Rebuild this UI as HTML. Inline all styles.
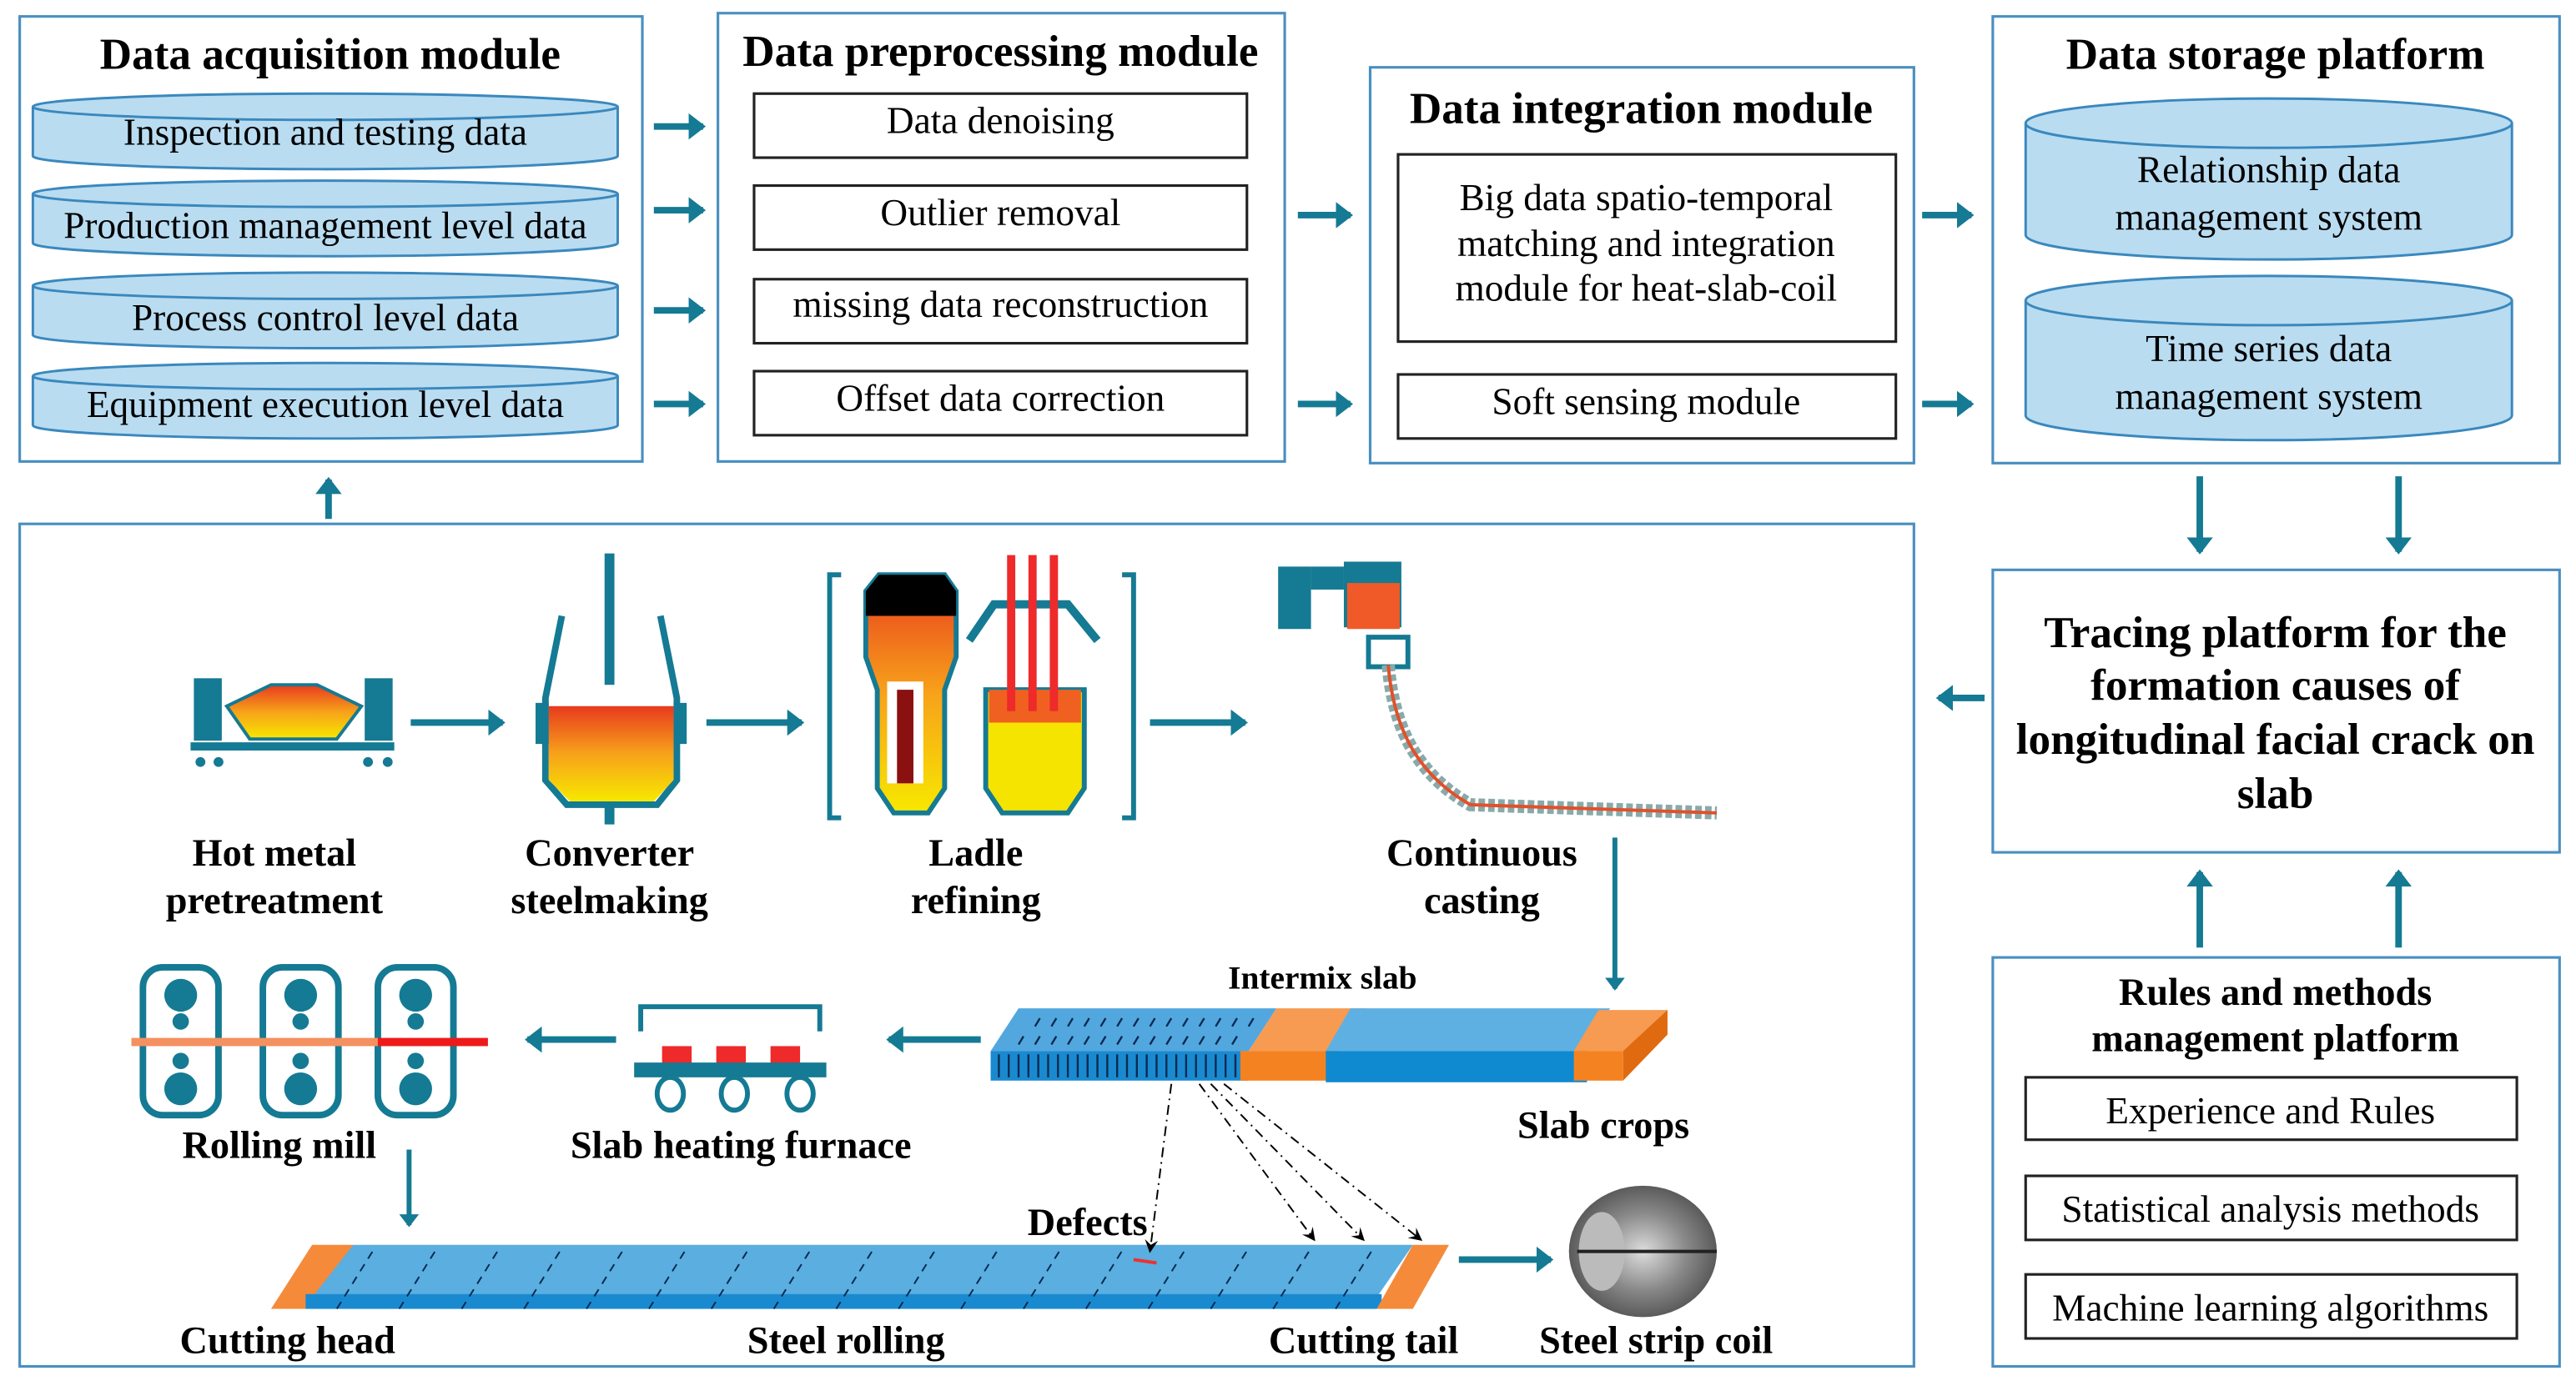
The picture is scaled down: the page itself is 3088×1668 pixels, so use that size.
<!DOCTYPE html>
<html><head><meta charset="utf-8"><style>
html,body{margin:0;padding:0;background:#fff;}
svg{display:block;}
text{font-family:"Liberation Serif",serif;fill:#000;}
.t{font-size:27px;font-weight:bold;text-anchor:middle;}
.i{font-size:23px;text-anchor:middle;}
.l{font-size:23.5px;font-weight:bold;text-anchor:middle;}
</style></head><body>
<svg width="3088" height="1668" viewBox="0 0 1568 847" preserveAspectRatio="none" xmlns="http://www.w3.org/2000/svg">
<defs>
<marker id="ah" markerWidth="4" markerHeight="4" refX="2.2" refY="2" orient="auto" markerUnits="strokeWidth"><path d="M0,0 L2.6,2 L0,4 Z" fill="#157a93"/></marker>
<marker id="dh" markerWidth="8" markerHeight="8" refX="7" refY="4" orient="auto" markerUnits="userSpaceOnUse"><path d="M0,0 L8,4 L0,8 L3,4 Z" fill="#000"/></marker>
<linearGradient id="hot" x1="0" y1="0" x2="0" y2="1"><stop offset="0" stop-color="#e83a1e"/><stop offset="0.5" stop-color="#f7a21a"/><stop offset="1" stop-color="#f7e800"/></linearGradient>
<radialGradient id="coil" cx="0.5" cy="0.5" r="0.6"><stop offset="0" stop-color="#ddd"/><stop offset="0.5" stop-color="#888"/><stop offset="1" stop-color="#444"/></radialGradient>
</defs>
<g fill="none" stroke="#4a8fc0" stroke-width="1.6">
<rect x="12" y="10" width="379" height="271"/>
<rect x="437" y="8" width="345" height="273"/>
<rect x="834" y="41" width="331" height="241"/>
<rect x="1213" y="10" width="345" height="272"/>
<rect x="1213" y="347" width="345" height="172"/>
<rect x="1213" y="583" width="345" height="249"/>
<rect x="12" y="319" width="1153" height="513"/>
</g>
<text class="t" x="201" y="42">Data acquisition module</text>
<text class="t" x="609" y="40">Data preprocessing module</text>
<text class="t" x="999" y="75">Data integration module</text>
<text class="t" x="1385" y="42">Data storage platform</text>
<!-- cylinders -->
<g fill="#b9dcf1" stroke="#3a88bd" stroke-width="1.5">
<path d="M20,65 v30 a178,8 0 0 0 356,0 v-30"/><ellipse cx="198" cy="65" rx="178" ry="8"/>
<path d="M20,118 v30 a178,8 0 0 0 356,0 v-30"/><ellipse cx="198" cy="118" rx="178" ry="8"/>
<path d="M20,174 v30 a178,8 0 0 0 356,0 v-30"/><ellipse cx="198" cy="174" rx="178" ry="8"/>
<path d="M20,229 v30 a178,8 0 0 0 356,0 v-30"/><ellipse cx="198" cy="229" rx="178" ry="8"/>
<path d="M1233,75 v68 a148,15 0 0 0 296,0 v-68"/><ellipse cx="1381" cy="75" rx="148" ry="15"/>
<path d="M1233,183 v70 a148,15 0 0 0 296,0 v-70"/><ellipse cx="1381" cy="183" rx="148" ry="15"/>
</g>
<text class="i" x="198" y="88">Inspection and testing data</text>
<text class="i" x="198" y="145">Production management level data</text>
<text class="i" x="198" y="201">Process control level data</text>
<text class="i" x="198" y="254">Equipment execution level data</text>
<text class="i" x="1381" y="111">Relationship data</text>
<text class="i" x="1381" y="140">management system</text>
<text class="i" x="1381" y="220">Time series data</text>
<text class="i" x="1381" y="249">management system</text>
<g fill="#fff" stroke="#222" stroke-width="1.6">
<rect x="459" y="57" width="300" height="39"/><rect x="459" y="113" width="300" height="39"/>
<rect x="459" y="170" width="300" height="39"/><rect x="459" y="226" width="300" height="39"/>
<rect x="851" y="94" width="303" height="114"/><rect x="851" y="228" width="303" height="39"/>
<rect x="1233" y="656" width="299" height="38"/><rect x="1233" y="716" width="299" height="39"/><rect x="1233" y="776" width="299" height="39"/>
</g>
<text class="i" x="609" y="81">Data denoising</text>
<text class="i" x="609" y="137">Outlier removal</text>
<text class="i" x="609" y="193">missing data reconstruction</text>
<text class="i" x="609" y="250">Offset data correction</text>
<text class="i" x="1002" y="128">Big data spatio-temporal</text>
<text class="i" x="1002" y="156">matching and integration</text>
<text class="i" x="1002" y="183">module for heat-slab-coil</text>
<text class="i" x="1002" y="252">Soft sensing module</text>
<text class="i" x="1382" y="684">Experience and Rules</text>
<text class="i" x="1382" y="744">Statistical analysis methods</text>
<text class="i" x="1382" y="804">Machine learning algorithms</text>
<text class="t" x="1385" y="394">Tracing platform for the</text>
<text class="t" x="1385" y="426">formation causes of</text>
<text class="t" x="1385" y="459">longitudinal facial crack on</text>
<text class="t" x="1385" y="492">slab</text>
<text class="l" x="1385" y="612">Rules and methods</text>
<text class="l" x="1385" y="640">management platform</text>
<!-- arrows -->
<g stroke="#157a93" stroke-width="4" fill="none" marker-end="url(#ah)">
<path d="M398,77 H428"/><path d="M398,128 H428"/><path d="M398,189 H428"/><path d="M398,246 H428"/>
<path d="M790,131 H822"/><path d="M790,246 H822"/>
<path d="M1170,131 H1200"/><path d="M1170,246 H1200"/>
<path d="M1339,290 V336"/><path d="M1460,290 V336"/>
<path d="M1208,425 H1180"/>
<path d="M1339,577 V531"/><path d="M1460,577 V531"/>
<path d="M200,316 V292"/>
<path d="M250,440 H306"/><path d="M430,440 H488"/><path d="M700,440 H758"/>
<path d="M597,633 H541"/><path d="M375,633 H321"/>
<path d="M888,767 H944"/>
</g>
<g stroke="#157a93" stroke-width="3" fill="none" marker-end="url(#ah)">
<path d="M983,510 V602"/><path d="M249,700 V746"/>
</g>
<!-- hot metal -->
<rect x="118" y="413" width="17" height="38" fill="#157a93"/><rect x="222" y="413" width="17" height="38" fill="#157a93"/>
<path d="M138,430 L165,417 H193 L220,430 L205,450 H152 Z" fill="url(#hot)" stroke="#157a93" stroke-width="2"/>
<rect x="116" y="452" width="124" height="5" fill="#157a93"/>
<circle cx="122" cy="464" r="3" fill="#157a93"/><circle cx="133" cy="464" r="3" fill="#157a93"/><circle cx="224" cy="464" r="3" fill="#157a93"/><circle cx="236" cy="464" r="3" fill="#157a93"/>
<!-- converter -->
<path d="M342,375 L332,425 V475 L345,490 H400 L412,475 V425 L402,375" fill="none" stroke="#157a93" stroke-width="4"/>
<path d="M334,430 H410 V475 L398,488 H347 L334,475 Z" fill="url(#hot)"/>
<rect x="326" y="428" width="8" height="25" fill="#157a93"/><rect x="410" y="428" width="8" height="25" fill="#157a93"/>
<rect x="368" y="337" width="6" height="80" fill="#157a93"/><rect x="368" y="490" width="6" height="12" fill="#157a93"/>
<!-- ladle -->
<path d="M512,350 H505 V498 H512 M683,350 H690 V498 H683" fill="none" stroke="#157a93" stroke-width="3"/>
<path d="M535,350 L527,360 V400 L534,420 V480 L544,495 H565 L575,480 V420 L582,400 V360 L575,350 Z" fill="url(#hot)" stroke="#157a93" stroke-width="3"/>
<path d="M535,350 H575 L582,360 V375 H527 V360 Z" fill="#000"/>
<rect x="540" y="415" width="22" height="62" fill="#fff"/><rect x="546" y="420" width="10" height="57" fill="#8b1010"/>
<path d="M600,420 V480 L610,495 H650 L660,480 V420 Z" fill="#f5e400" stroke="#157a93" stroke-width="3"/>
<path d="M590,390 L605,368 H650 L668,390" fill="none" stroke="#157a93" stroke-width="5"/>
<path d="M602,420 H658 V440 H602 Z" fill="#f06020"/>
<rect x="613" y="338" width="5" height="95" fill="#ee2a2a"/><rect x="626" y="338" width="5" height="95" fill="#ee2a2a"/><rect x="639" y="338" width="5" height="95" fill="#ee2a2a"/>
<!-- continuous casting -->
<rect x="778" y="345" width="20" height="38" fill="#157a93"/><rect x="798" y="345" width="20" height="14" fill="#157a93"/>
<rect x="818" y="342" width="35" height="40" fill="#157a93"/><rect x="820" y="355" width="32" height="28" fill="#ef5a28"/>
<rect x="833" y="388" width="24" height="18" fill="none" stroke="#157a93" stroke-width="3"/>
<path d="M845,405 C848,440 860,470 895,490 L1045,495" fill="none" stroke="#8aa" stroke-width="8" stroke-dasharray="4,2"/>
<path d="M845,405 C848,440 860,470 895,490 L1045,495" fill="none" stroke="#e2502a" stroke-width="2"/>
<!-- labels -->
<text class="l" x="167" y="527">Hot metal</text><text class="l" x="167" y="556">pretreatment</text>
<text class="l" x="371" y="527">Converter</text><text class="l" x="371" y="556">steelmaking</text>
<text class="l" x="594" y="527">Ladle</text><text class="l" x="594" y="556">refining</text>
<text class="l" x="902" y="527">Continuous</text><text class="l" x="902" y="556">casting</text>
<text class="l" x="805" y="602" style="font-size:20px">Intermix slab</text>
<text class="l" x="976" y="693">Slab crops</text>
<text class="l" x="451" y="705">Slab heating furnace</text>
<text class="l" x="170" y="705">Rolling mill</text>
<text class="l" x="662" y="752">Defects</text>
<text class="l" x="175" y="824">Cutting head</text>
<text class="l" x="515" y="824">Steel rolling</text>
<text class="l" x="830" y="824">Cutting tail</text>
<text class="l" x="1008" y="824">Steel strip coil</text>
<!-- slab -->
<path d="M603,640 L620,614 H777 L760,640 Z" fill="#52a7de"/>
<rect x="603" y="640" width="157" height="18" fill="#1a8ad0"/>
<g stroke="#0a2a50" stroke-width="1.2">
<path d="M608,642 v14 M614,642 v14 M620,642 v14 M626,642 v14 M632,642 v14 M638,642 v14 M644,642 v14 M650,642 v14 M656,642 v14 M662,642 v14 M668,642 v14 M674,642 v14 M680,642 v14 M686,642 v14 M692,642 v14 M698,642 v14 M704,642 v14 M710,642 v14 M716,642 v14 M722,642 v14 M728,642 v14 M734,642 v14 M740,642 v14 M746,642 v14 M752,642 v14"/>
<path d="M620,636 l3,-5 M630,636 l3,-5 M640,636 l3,-5 M650,636 l3,-5 M660,636 l3,-5 M670,636 l3,-5 M680,636 l3,-5 M690,636 l3,-5 M700,636 l3,-5 M710,636 l3,-5 M720,636 l3,-5 M730,636 l3,-5 M740,636 l3,-5 M750,636 l3,-5" />
<path d="M630,625 l3,-5 M640,625 l3,-5 M650,625 l3,-5 M660,625 l3,-5 M670,625 l3,-5 M680,625 l3,-5 M690,625 l3,-5 M700,625 l3,-5 M710,625 l3,-5 M720,625 l3,-5 M730,625 l3,-5 M740,625 l3,-5 M750,625 l3,-5 M760,625 l3,-5"/>
</g>
<path d="M760,640 L777,614 H832 L815,640 Z" fill="#f79a52"/><rect x="755" y="640" width="60" height="18" fill="#f58220"/>
<path d="M807,640 L822,614 H980 L966,640 Z" fill="#5eb0e2"/><rect x="807" y="640" width="159" height="19" fill="#0f8ad0"/>
<path d="M958,640 L973,615 H1015 L1000,640 Z" fill="#f79a52"/><rect x="958" y="640" width="30" height="18" fill="#f58220"/><path d="M988,658 L1015,630 V615 L988,640 Z" fill="#e06a10"/>
<!-- furnace -->
<path d="M390,628 V613 H499 V628" fill="none" stroke="#157a93" stroke-width="3"/>
<rect x="403" y="637" width="18" height="12" fill="#ee2a2a"/><rect x="436" y="637" width="18" height="12" fill="#ee2a2a"/><rect x="469" y="637" width="18" height="12" fill="#ee2a2a"/>
<rect x="386" y="647" width="117" height="9" fill="#157a93"/>
<g fill="none" stroke="#157a93" stroke-width="3"><ellipse cx="408" cy="666" rx="8" ry="10"/><ellipse cx="447" cy="666" rx="8" ry="10"/><ellipse cx="487" cy="666" rx="8" ry="10"/></g>
<!-- rolling mill -->
<g fill="none" stroke="#157a93" stroke-width="4"><rect x="87" y="589" width="46" height="90" rx="12"/><rect x="160" y="589" width="46" height="90" rx="12"/><rect x="230" y="589" width="46" height="90" rx="12"/></g>
<g fill="#157a93"><circle cx="110" cy="606" r="10"/><circle cx="110" cy="622" r="5"/><circle cx="110" cy="646" r="5"/><circle cx="110" cy="663" r="10"/>
<circle cx="183" cy="606" r="10"/><circle cx="183" cy="622" r="5"/><circle cx="183" cy="646" r="5"/><circle cx="183" cy="663" r="10"/>
<circle cx="253" cy="606" r="10"/><circle cx="253" cy="622" r="5"/><circle cx="253" cy="646" r="5"/><circle cx="253" cy="663" r="10"/></g>
<rect x="80" y="632" width="150" height="5" fill="#f59060"/><rect x="230" y="632" width="67" height="5" fill="#ee1a1a"/>
<!-- strip -->
<path d="M165,797 L190,758 H215 L190,797 Z" fill="#f58a3a"/>
<path d="M190,790 L215,758 H860 L838,790 Z" fill="#5aaee0"/>
<rect x="186" y="788" width="655" height="9" fill="#1a8ad0"/>
<path d="M838,797 L860,758 H882 L860,797 Z" fill="#f58a3a"/>
<g stroke="#0a2a50" stroke-width="1" stroke-dasharray="5,4">
<path d="M205,797 L228,760 M243,797 L266,760 M281,797 L304,760 M319,797 L342,760 M357,797 L380,760 M395,797 L418,760 M433,797 L456,760 M471,797 L494,760 M509,797 L532,760 M547,797 L570,760 M585,797 L608,760 M623,797 L646,760 M661,797 L684,760 M699,797 L722,760 M737,797 L760,760 M775,797 L798,760 M813,797 L836,760"/>
</g>
<path d="M690,767 l14,2" stroke="#ee3030" stroke-width="2"/>
<g stroke="#000" stroke-width="1" stroke-dasharray="6,3,1,3" fill="none" marker-end="url(#dh)">
<path d="M713,660 L700,762"/><path d="M730,660 L800,755"/><path d="M737,660 L830,755"/><path d="M745,660 L865,755"/>
</g>
<!-- coil -->
<ellipse cx="1000" cy="762" rx="45" ry="40" fill="url(#coil)"/>
<ellipse cx="975" cy="762" rx="14" ry="24" fill="#bbb"/>
<path d="M960,762 H1045" stroke="#222" stroke-width="2"/>
</svg>
</body></html>
